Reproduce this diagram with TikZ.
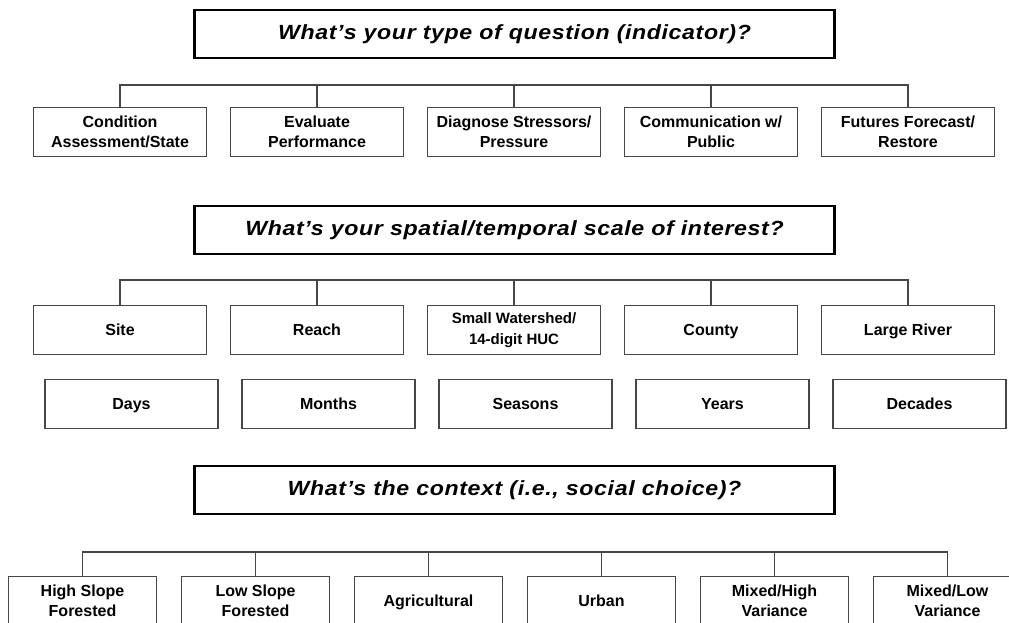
\documentclass[tikz,border=0pt]{standalone}
\usepackage{fontspec}
\setmainfont{Liberation Sans}
\newfontfamily\headfont[LetterSpace=3, FakeStretch=1.13]{Liberation Sans}
\usetikzlibrary{positioning}
\definecolor{lineGray}{RGB}{70,70,70}

\begin{document}
\begin{tikzpicture}[x=1pt, y=-1pt, node distance=22.7pt]
        \tikzstyle{box} = [rectangle, draw=lineGray, line width=1.3pt, minimum width=173pt, minimum height=49pt, inner sep=0pt, align=center, font=\fontsize{16}{20}\selectfont\bfseries]
        \tikzstyle{single} = [text height=12pt, text depth=0.6pt]
        \tikzstyle{choice} = [box, minimum width=148pt]
        \tikzstyle{question} = [rectangle, draw=black, line width=2.5pt, minimum width=640pt, minimum height=48pt, inner sep=0pt, font=\headfont\fontsize{20.5}{24}\selectfont\bfseries\itshape]
        \tikzstyle{link} = [draw=lineGray, line width=1.6pt]

        \useasboundingbox (0,0) rectangle (1009,623);
        \clip (0,0) rectangle (1009,623);

        % Type of question
        \node[question] (qtype) at (514.5,34) {What’s your type of question (indicator)?};
        \node[box] (t1) at (120,132) {Condition\\Assessment/State};
        \node[box, right=of t1] (t2) {Evaluate\\Performance};
        \node[box, right=of t2] (t3) {Diagnose Stressors/\\Pressure};
        \node[box, right=of t3] (t4) {Communication w/\\Public};
        \node[box, right=of t4] (t5) {Futures Forecast/\\Restore};
        \coordinate (tbus) at (0,85);

        % Spatial/temporal scale
        \node[question] (qscale) at (514.5,230) {What’s your spatial/temporal scale of interest?};
        \node[box, single] (s1) at (120,330) {Site};
        \node[box, single, right=of s1] (s2) {Reach};
        \node[box, right=of s2, font=\fontsize{15}{21}\selectfont\bfseries] (s3) {Small Watershed/\\14-digit HUC};
        \node[box, single, right=of s3] (s4) {County};
        \node[box, single, right=of s4] (s5) {Large River};
        \coordinate (sbus) at (0,280);
        \node[box, single] (d1) at (131.5,404) {Days};
        \node[box, single, right=of d1] (d2) {Months};
        \node[box, single, right=of d2] (d3) {Seasons};
        \node[box, single, right=of d3] (d4) {Years};
        \node[box, single, right=of d4] (d5) {Decades};

        % Context
        \node[question] (qcontext) at (514.5,490) {What’s the context (i.e., social choice)?};
        \node[choice] (c1) at (82.5,601) {High Slope\\Forested};
        \node[choice, right=23.7pt of c1] (c2) {Low Slope\\Forested};
        \node[choice, single, right=23.7pt of c2] (c3) {Agricultural};
        \node[choice, single, right=23.7pt of c3] (c4) {Urban};
        \node[choice, right=23.7pt of c4] (c5) {Mixed/High\\Variance};
        \node[choice, right=23.7pt of c5] (c6) {Mixed/Low\\Variance};
        \coordinate (cbus) at (0,552);

        \draw[link] (t1.north) |- (tbus -| t5.north) -- (t5.north);
        \foreach \i in {2,3,4} \draw[link] (t\i.north) -- (t\i.north |- tbus);
        \draw[link] (s1.north) |- (sbus -| s5.north) -- (s5.north);
        \foreach \i in {2,3,4} \draw[link] (s\i.north) -- (s\i.north |- sbus);
        \draw[link] (c1.north) |- (cbus -| c6.north) -- (c6.north);
        \foreach \i in {2,3,4,5} \draw[link] (c\i.north) -- (c\i.north |- cbus);
    \end{tikzpicture}
\end{document}
